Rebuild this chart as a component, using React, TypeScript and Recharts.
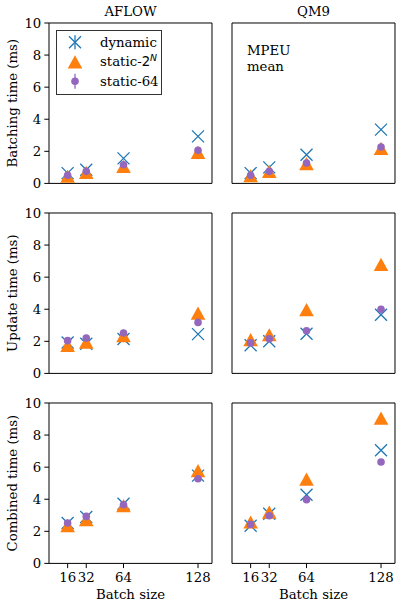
import { Label, Legend, ReferenceLine, Scatter, ScatterChart, XAxis, YAxis } from "recharts";

const FONT = "'DejaVu Serif', serif";
const MATH_FONT = "'DejaVu Sans', sans-serif";
const FS = 13.3;
const BLUE = "#1f77b4";
const ORANGE = "#ff7f0e";
const PURPLE = "#9467bd";

const batchSizes = [16, 32, 64, 128];
const xTicks = [16, 32, 64, 128];
const yTicks = [0, 2, 4, 6, 8, 10];
const datasets = ["AFLOW", "QM9"];
const timeLabels = ["Batching time (ms)", "Update time (ms)", "Combined time (ms)"];

// batching time (ms)
const aflowBatchingDynamic = [0.64, 0.85, 1.56, 2.93];
const aflowBatchingPow2 = [0.45, 0.69, 1.06, 1.93];
const aflowBatching64 = [0.5, 0.75, 1.16, 2.06];
const qm9BatchingDynamic = [0.64, 1.0, 1.79, 3.35];
const qm9BatchingPow2 = [0.48, 0.75, 1.23, 2.18];
const qm9Batching64 = [0.5, 0.75, 1.27, 2.27];

// update time (ms)
const aflowUpdateDynamic = [1.93, 1.85, 2.14, 2.45];
const aflowUpdatePow2 = [1.75, 1.95, 2.35, 3.76];
const aflowUpdate64 = [2.04, 2.2, 2.52, 3.18];
const qm9UpdateDynamic = [1.75, 2.0, 2.47, 3.66];
const qm9UpdatePow2 = [2.1, 2.41, 3.97, 6.8];
const qm9Update64 = [1.9, 2.16, 2.66, 4.0];

// combined time (ms)
const aflowCombinedDynamic = [2.52, 2.89, 3.72, 5.47];
const aflowCombinedPow2 = [2.35, 2.72, 3.6, 5.78];
const aflowCombined64 = [2.52, 2.93, 3.66, 5.28];
const qm9CombinedDynamic = [2.35, 3.1, 4.28, 7.05];
const qm9CombinedPow2 = [2.58, 3.2, 5.26, 9.06];
const qm9Combined64 = [2.43, 2.97, 3.97, 6.32];

type Series = { dynamic: number[]; pow2: number[]; s64: number[] };

const grid: Series[][] = [
  [
    { dynamic: aflowBatchingDynamic, pow2: aflowBatchingPow2, s64: aflowBatching64 },
    { dynamic: qm9BatchingDynamic, pow2: qm9BatchingPow2, s64: qm9Batching64 },
  ],
  [
    { dynamic: aflowUpdateDynamic, pow2: aflowUpdatePow2, s64: aflowUpdate64 },
    { dynamic: qm9UpdateDynamic, pow2: qm9UpdatePow2, s64: qm9Update64 },
  ],
  [
    { dynamic: aflowCombinedDynamic, pow2: aflowCombinedPow2, s64: aflowCombined64 },
    { dynamic: qm9CombinedDynamic, pow2: qm9CombinedPow2, s64: qm9Combined64 },
  ],
];

// panel geometry
const PLOT_W = 163;
const PLOT_H = 160.4;
const AXIS_W = 50;
const PAD_TOP = 24;
const PAD_RIGHT = 6;
const AXIS_H = 44;
const colLeft = [49.3, 231.7];
const rowTop = [23.3, 213.3, 403.3];

const toPoints = (ys: number[]) => batchSizes.map((x, i) => ({ x, y: ys[i] }));

const tickStyle = { fill: "#000", fontSize: FS, fontFamily: FONT };

function Cross({ cx, cy }: any) {
  const h = 6;
  return (
    <path
      d={`M${cx - h},${cy - h}L${cx + h},${cy + h}M${cx - h},${cy + h}L${cx + h},${cy - h}`}
      stroke={BLUE}
      strokeWidth={1.3}
      fill="none"
    />
  );
}

function Tri({ cx, cy }: any) {
  const w = 7.3;
  const h = 6.6;
  return <path d={`M${cx},${cy - h}L${cx + w},${cy + h}L${cx - w},${cy + h}Z`} fill={ORANGE} />;
}

function Dot({ cx, cy }: any) {
  return <circle cx={cx} cy={cy} r={3.8} fill={PURPLE} />;
}

function LegendBox() {
  const rows = [12.3, 31.8, 51.3];
  const mx = 19;
  const tx = 44;
  return (
    <svg width={106} height={65} style={{ display: "block" }}>
      <rect x={0.5} y={0.5} width={105} height={64} fill="#fff" fillOpacity={0.8} stroke="#333" />
      <Cross cx={mx} cy={rows[0]} />
      <line x1={mx} x2={mx} y1={rows[0] - 7} y2={rows[0] + 7} stroke={BLUE} strokeWidth={1.3} />
      <Tri cx={mx} cy={rows[1]} />
      <line x1={mx} x2={mx} y1={rows[2] - 7.5} y2={rows[2] + 7.5} stroke={PURPLE} strokeWidth={1.3} />
      <Dot cx={mx} cy={rows[2]} />
      <g fontFamily={FONT} fontSize={FS} fill="#000">
        <text x={tx} y={rows[0] + 4.5}>dynamic</text>
        <text x={tx} y={rows[1] + 4.5}>
          static-
          <tspan fontFamily={MATH_FONT}>2</tspan>
          <tspan fontFamily={MATH_FONT} fontStyle="italic" fontSize={9.3} dy={-5.5}>N</tspan>
        </text>
        <text x={tx} y={rows[2] + 4.5}>static-64</text>
      </g>
    </svg>
  );
}

function Panel({ row, col }: { row: number; col: number }) {
  const s = grid[row][col];
  const left = colLeft[col] - AXIS_W;
  const top = rowTop[row] - PAD_TOP;
  const bottomRow = row === 2;
  const firstCol = col === 0;
  const midX = AXIS_W + PLOT_W / 2;

  return (
    <div style={{ position: "absolute", left, top }}>
      <ScatterChart
        width={AXIS_W + PLOT_W + PAD_RIGHT}
        height={PAD_TOP + PLOT_H + AXIS_H}
        margin={{ top: PAD_TOP, right: PAD_RIGHT, bottom: 0, left: 0 }}
      >
        <XAxis
          type="number"
          dataKey="x"
          domain={[0, 140]}
          ticks={xTicks}
          interval={0}
          height={AXIS_H}
          tick={bottomRow ? tickStyle : false}
          tickSize={4.7}
          tickMargin={4}
          axisLine={{ stroke: "#000" }}
          tickLine={{ stroke: "#000" }}
        >
          {bottomRow && (
            <Label
              content={() => (
                <text x={midX} y={PAD_TOP + PLOT_H + 35.3} textAnchor="middle" fontFamily={FONT} fontSize={FS} fill="#000">
                  Batch size
                </text>
              )}
            />
          )}
        </XAxis>
        <YAxis
          type="number"
          dataKey="y"
          domain={[0, 10]}
          ticks={yTicks}
          interval={0}
          width={AXIS_W}
          tick={firstCol ? tickStyle : false}
          tickSize={4.7}
          tickMargin={3}
          axisLine={{ stroke: "#000" }}
          tickLine={{ stroke: "#000" }}
        >
          {firstCol && (
            <Label
              content={() => {
                const x = 17 - left;
                const y = PAD_TOP + PLOT_H / 2;
                return (
                  <text x={x} y={y} transform={`rotate(-90, ${x}, ${y})`} textAnchor="middle" fontFamily={FONT} fontSize={FS} fill="#000">
                    {timeLabels[row]}
                  </text>
                );
              }}
            />
          )}
        </YAxis>
        <ReferenceLine
          y={10}
          stroke="#000"
          strokeWidth={1}
          label={
            row === 0
              ? () => (
                  <g fontFamily={FONT} fontSize={FS} fill="#000">
                    <text x={midX} y={PAD_TOP - 6.6} textAnchor="middle">
                      {datasets[col]}
                    </text>
                    {col === 1 && (
                      <>
                        <text x={AXIS_W + 15} y={PAD_TOP + 32.4}>MPEU</text>
                        <text x={AXIS_W + 15} y={PAD_TOP + 47.7}>mean</text>
                      </>
                    )}
                  </g>
                )
              : undefined
          }
        />
        <ReferenceLine x={140} stroke="#000" strokeWidth={1} />
        <Scatter name="dynamic" data={toPoints(s.dynamic)} shape={(p: any) => <Cross cx={p.cx} cy={p.cy} />} isAnimationActive={false} />
        <Scatter name="static-2^N" data={toPoints(s.pow2)} shape={(p: any) => <Tri cx={p.cx} cy={p.cy} />} isAnimationActive={false} />
        <Scatter name="static-64" data={toPoints(s.s64)} shape={(p: any) => <Dot cx={p.cx} cy={p.cy} />} isAnimationActive={false} />
        {row === 0 && col === 0 && (
          <Legend
            layout="vertical"
            align="center"
            verticalAlign="middle"
            wrapperStyle={{ left: 56 - left, top: 29.7 - top, width: 106, height: 65 }}
            content={() => <LegendBox />}
          />
        )}
      </ScatterChart>
    </div>
  );
}

export default function App() {
  return (
    <div style={{ position: "absolute", left: 0, top: 0, width: 402, height: 607, background: "#fff" }}>
      {[0, 1, 2].map((row) => [0, 1].map((col) => <Panel key={`${row}-${col}`} row={row} col={col} />))}
    </div>
  );
}
